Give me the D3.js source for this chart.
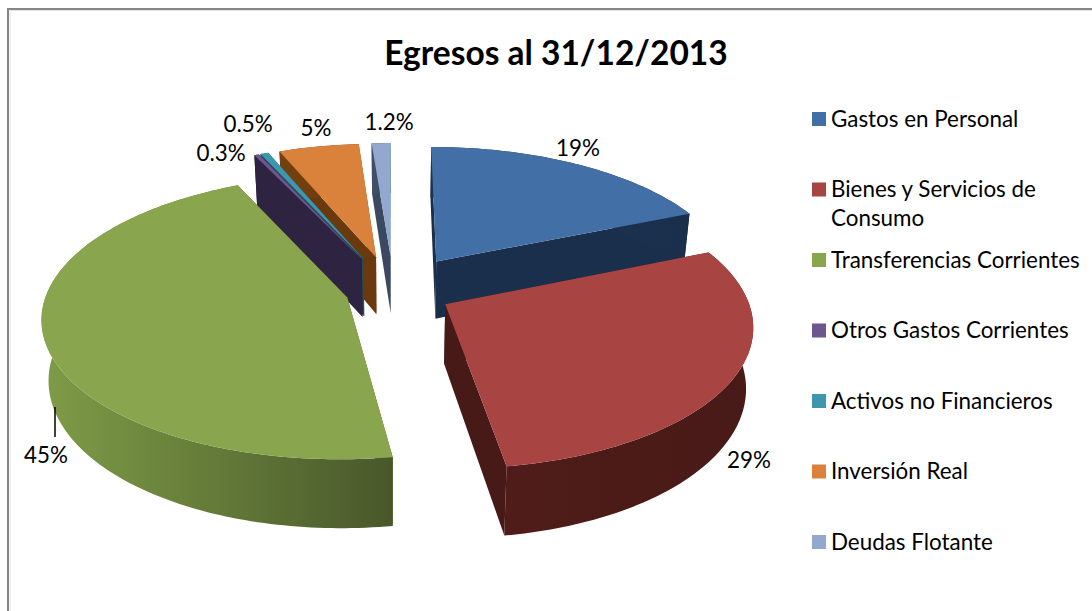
<!DOCTYPE html>
<html>
<head>
<meta charset="utf-8">
<script src="https://cdnjs.cloudflare.com/ajax/libs/d3/7.8.5/d3.min.js"></script>
<style>
html,body{margin:0;padding:0;background:#fff}
svg{display:block}
text{font-family:Lato,"Noto Sans",sans-serif;fill:#000}
</style>
</head>
<body>
<svg id="c" width="1092" height="611"></svg>
<script>
const title = "Egresos al 31/12/2013";
const categories = ["Gastos en Personal","Bienes y Servicios de Consumo","Transferencias Corrientes","Otros Gastos Corrientes","Activos no Financieros","Inversión Real","Deudas Flotante"];
const values = [18.6,28.8,45.2,0.3,0.5,5,1.2];
const valueLabels = ["19%","29%","45%","0.3%","0.5%","5%","1.2%"];
const topColors = ["#426fa6","#a84442","#89a54e","#6f558d","#3f97ad","#da823b","#92a8cf"];
const wallLight = ["#1c3453","#4f1c19","#7f9c47","#2e2340","#1f4f5c","#75400f","#414f68"];
const wallDark  = ["#1a2f4c","#481a17","#48582a","#2e2340","#1f4f5c","#6a3a0e","#3a4860"];
const explode = [0.265,0.195,0.16,0.26,0.26,0.26,0.26];
const labelAnchors = [[578,156],[749,468],[46,463],[221,161],[248,132],[316,136],[389,130]];
const drawOrder = [6,5,4,3,0,2,1];

// camera model of the tilted pie
const cx=393.5, cy=291, rx=300, ry=137.7, persp=0.137, depth=59, floorShrink=0.98;
function project(u,v,low){
  const p=1/(1-persp*v);
  const s=low?floorShrink:1;
  return [cx+rx*u*p*s, cy+ry*v*p+(low?depth*p:0)];
}
const svg=d3.select("#c");
const defs=svg.append("defs");
// frame
svg.append("path").attr("d","M8,611V9H1092").attr("fill","none").attr("stroke","#868686").attr("stroke-width",2);
svg.append("path").attr("d","M10,611V10.5H1092").attr("fill","none").attr("stroke","#e4e4e4").attr("stroke-width",1);

const arcs=d3.pie().sort(null).value(d=>d)(values);
const line=d3.line();
function rim(a,i,low){
  const ox=Math.sin(a.bis)*explode[i], oy=-Math.cos(a.bis)*explode[i];
  const n=Math.max(2,Math.ceil((a.endAngle-a.startAngle)/0.02));
  return d3.range(n+1).map(k=>{
    const t=a.startAngle+(a.endAngle-a.startAngle)*k/n;
    return project(ox+Math.sin(t),oy-Math.cos(t),low);
  });
}
function apex(a,i,low){
  return project(Math.sin(a.bis)*explode[i],-Math.cos(a.bis)*explode[i],low);
}
const g=svg.append("g");
drawOrder.forEach(i=>{
  const a=arcs[i]; a.bis=(a.startAngle+a.endAngle)/2;
  const top=rim(a,i,false), bot=rim(a,i,true), A=apex(a,i,false), B=apex(a,i,true);
  const id="w"+i;
  const gr=defs.append("linearGradient").attr("id",id).attr("x1",0).attr("x2",1).attr("y1",0).attr("y2",0);
  gr.append("stop").attr("offset",0).attr("stop-color",wallLight[i]);
  gr.append("stop").attr("offset",1).attr("stop-color",wallDark[i]);
  const s=g.append("g");
  const dark=wallDark[i];
  // radial cut faces
  [[A,top[0],bot[0],B],[A,top[top.length-1],bot[bot.length-1],B]].forEach(q=>{
    s.append("path").attr("d",line(q)+"Z").attr("fill",dark);
  });
  // outer wall
  s.append("path").attr("d",line(top.concat(bot.slice().reverse()))+"Z").attr("fill","url(#"+id+")");
  // top surface
  s.append("path").attr("d",line([A].concat(top))+"Z").attr("fill",topColors[i]);
});

// title
svg.append("text").attr("x",556).attr("y",65).attr("text-anchor","middle")
  .attr("font-size",33.5).attr("font-weight",700).text(title);

// data labels
svg.append("g").selectAll("text").data(valueLabels).join("text")
  .attr("x",(d,i)=>labelAnchors[i][0]).attr("y",(d,i)=>labelAnchors[i][1])
  .attr("text-anchor","middle").attr("font-size",22.4).text(d=>d);
svg.append("line").attr("x1",55).attr("x2",55).attr("y1",407).attr("y2",437).attr("stroke","#000").attr("stroke-width",1.5);

// legend
const legY=d3.scalePoint().domain(categories).range([119,542]);
const leg=svg.append("g").selectAll("g").data(categories).join("g");
leg.append("rect").attr("x",812).attr("width",14).attr("height",14)
  .attr("y",d=>legY(d)-7).attr("fill",(d,i)=>topColors[i]);
leg.append("text").attr("x",831).attr("font-size",22.4).each(function(d){
  const t=d3.select(this), y=legY(d)+7.5;
  t.attr("y",y).text(d);
  if(this.getComputedTextLength()>255){
    const w=d.split(" "), last=w.pop();
    t.text(null);
    t.append("tspan").attr("x",831).attr("y",y).text(w.join(" "));
    t.append("tspan").attr("x",831).attr("y",y+29).text(last);
  }
});
</script>
</body>
</html>
